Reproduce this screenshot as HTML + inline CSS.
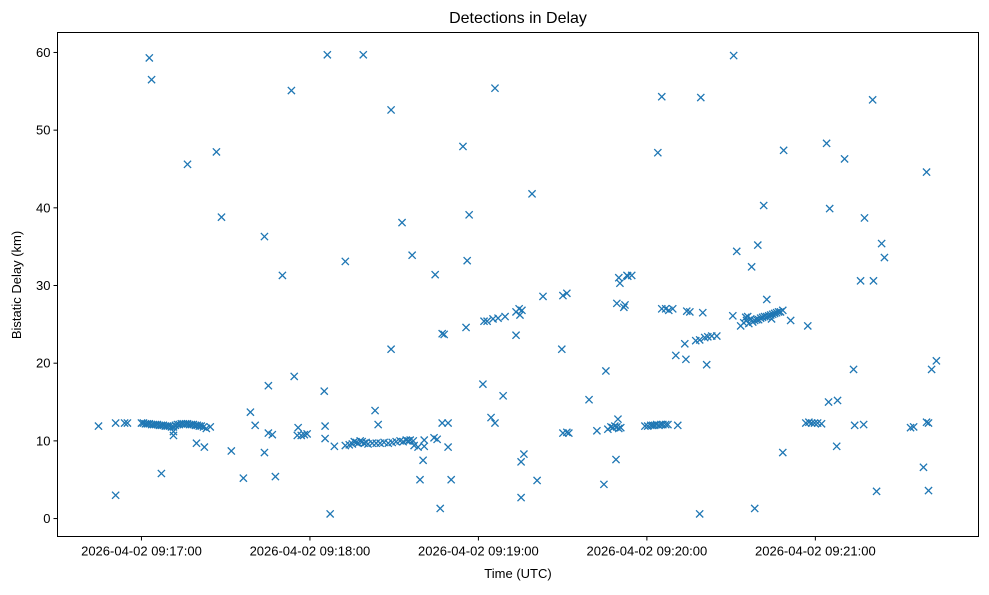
<!DOCTYPE html>
<html><head><meta charset="utf-8"><style>
html,body{margin:0;padding:0;background:#fff;}
svg text{font-family:"Liberation Sans","DejaVu Sans",sans-serif;fill:#000;}
</style></head><body>
<svg id="chart" width="989" height="590" xmlns="http://www.w3.org/2000/svg">
<rect x="0" y="0" width="989" height="590" fill="#fff"/>
<text x="518" y="23" font-size="16" text-anchor="middle">Detections in Delay</text>
<g id="marks"></g>
<g id="axes"></g>
<rect x="57.5" y="32.5" width="921" height="504" fill="none" stroke="#000" stroke-width="1"/>
<text x="518" y="578" font-size="13" text-anchor="middle">Time (UTC)</text>
<text x="0" y="0" font-size="13" text-anchor="middle" transform="translate(21,285) rotate(-90)">Bistatic Delay (km)</text>
</svg>
<script>
// seconds since 2026-04-02 09:16:00 UTC
const times = [44.7,50.8,50.8,54.0,55.0,62.8,63.6,67.1,76.4,86.7,88.5,92.0,96.3,98.8,100.5,103.8,103.8,105.2,105.2,106.6,107.7,110.2,113.4,114.4,115.5,115.8,116.9,118.0,119.0,125.1,125.4,125.4,126.2,127.2,128.7,132.6,132.6,139.0,143.2,144.3,148.9,148.9,152.8,156.4,157.1,159.2,160.3,160.7,160.7,164.6,164.2,165.3,166.4,167.1,167.8,167.1,169.2,169.2,170.3,174.5,175.6,176.0,176.7,181.6,182.0,183.1,184.5,185.2,185.9,185.9,187.0,188.8,189.5,193.4,193.4,194.5,195.5,194.8,195.2,195.2,196.2,199.1,200.9,203.0,209.7,210.1,211.5,212.2,210.1,211.5,219.4,222.2,224.7,225.4,229.0,229.3,229.7,230.0,230.4,231.8,233.2,232.9,234.6,232.2,243.9,245.3,245.3,246.7,247.8,249.2,250.3,251.0,253.5,254.2,255.3,253.9,257.4,258.8,259.2,258.8,259.9,260.6,261.3,261.7,263.1,264.9,270.6,270.9,272.0,277.3,278.4,279.5,281.6,282.7,284.4,288.4,288.4,288.7,291.2,297.3,304.0,304.7,305.1,307.6,307.9,310.4,313.6,314.0,316.1,317.2,317.5,320.4,320.7,321.8,323.6,324.6,333.9,335.0,338.5,339.6,340.3,339.6,340.3,341.4,343.1,
60.0,60.7,61.4,62.1,62.8,63.6,64.3,65.0,65.7,66.4,67.1,67.8,68.5,69.2,70.0,70.7,71.4,72.1,72.8,73.5,74.2,74.9,75.7,76.4,77.1,77.8,78.5,79.2,79.9,80.6,81.3,82.1,83.1,84.5,71.4,71.4,79.6,82.4,
134.0,135.1,135.8,136.5,137.2,137.9,138.6,139.3,140.0,140.7,142.2,143.6,145.0,146.4,147.9,149.3,150.7,152.1,153.2,154.3,155.0,155.7,156.8,158.5,
239.3,240.3,241.4,242.1,242.8,243.5,244.3,245.0,245.7,246.7,247.5,
226.1,227.2,227.9,228.6,229.3,230.0,230.7,
273.4,274.5,275.2,275.5,275.9,276.3,277.0,277.7,278.4,279.1,279.8,280.5,281.2,281.9,282.7,283.4,284.1,284.8,285.5,286.2,286.9,287.6,
296.6,297.7,298.7,299.7,300.8,302.2];
const delays = [11.9,3.0,12.3,12.3,12.3,59.3,56.5,5.8,45.6,47.2,38.8,8.7,5.2,13.7,12.0,36.3,8.5,17.1,11.0,10.8,5.4,31.3,55.1,18.3,10.7,11.7,10.7,10.8,10.9,16.4,11.9,10.3,59.7,0.6,9.3,33.1,9.4,59.7,13.9,12.1,52.6,21.8,38.1,33.9,9.4,5.0,7.5,10.1,9.3,31.4,10.4,10.2,1.3,23.8,23.7,12.3,12.3,9.2,5.0,47.9,24.6,33.2,39.1,17.3,25.4,25.4,13.0,25.7,12.3,55.4,25.8,15.8,26.0,23.6,26.6,27.0,26.8,26.2,7.3,2.7,8.3,41.8,4.9,28.6,21.8,11.0,11.1,11.0,28.7,29.0,15.3,11.3,4.4,19.0,7.6,27.7,12.8,31.0,30.3,27.2,31.2,31.3,31.3,27.5,47.1,54.3,27.0,27.0,26.8,27.0,21.0,12.0,22.5,26.7,26.6,20.5,22.9,23.0,54.2,0.6,26.5,23.3,19.8,23.4,23.5,23.5,26.1,59.6,34.4,32.4,1.3,35.2,40.3,28.2,25.7,26.8,8.5,47.4,25.5,24.8,48.3,15.0,39.9,9.3,15.2,46.3,19.2,12.0,30.6,12.1,38.7,53.9,30.6,3.5,35.4,33.6,11.7,11.8,6.6,12.4,12.3,44.6,3.6,19.2,20.3,
12.3,12.3,12.2,12.2,12.2,12.1,12.1,12.1,12.1,12.0,12.0,12.0,11.9,11.9,11.9,11.8,11.8,12.0,12.1,12.1,12.2,12.2,12.2,12.2,12.1,12.1,12.1,12.0,12.0,11.9,11.9,11.8,11.6,11.8,11.2,10.7,9.7,9.2,
9.5,9.6,9.9,9.8,9.7,10.0,9.9,9.7,9.8,9.6,9.7,9.7,9.7,9.8,9.7,9.8,9.9,10.0,9.9,10.1,10.0,10.1,10.0,9.2,
11.9,11.9,12.0,12.0,12.0,12.1,12.0,12.1,12.1,12.1,12.1,
11.5,11.8,11.7,11.9,11.8,11.6,11.7,
24.8,25.2,25.9,25.5,26.0,25.1,25.7,25.3,25.5,25.6,25.6,25.8,25.9,26.0,26.0,26.1,26.2,26.3,26.4,26.5,26.6,26.6,
12.3,12.4,12.3,12.3,12.3,12.2];
const xTickSeconds = [60,120,180,240,300];
const xTickLabels = ["2026-04-02 09:17:00","2026-04-02 09:18:00","2026-04-02 09:19:00","2026-04-02 09:20:00","2026-04-02 09:21:00"];
const yTicks = [0,10,20,30,40,50,60];

const NS = "http://www.w3.org/2000/svg";
const X0=57.5, X1=978.5, Y0=536.5, Y1=32.5;
const tMin=30.1, tMax=358.1, dMin=-2.31, dMax=62.57;
function xScale(t){return X0+(t-tMin)/(tMax-tMin)*(X1-X0);}
function yScale(d){return Y0-(d-dMin)/(dMax-dMin)*(Y0-Y1);}

const marks=document.getElementById('marks');
for(let i=0;i<times.length;i++){
  const cx=xScale(times[i]), cy=yScale(delays[i]), r=3.6;
  const p=document.createElementNS(NS,'path');
  p.setAttribute('d',`M${cx-r},${cy-r}L${cx+r},${cy+r}M${cx-r},${cy+r}L${cx+r},${cy-r}`);
  p.setAttribute('stroke','#1f77b4');
  p.setAttribute('stroke-width','1.3');
  p.setAttribute('fill','none');
  
  
  marks.appendChild(p);
}
const axes=document.getElementById('axes');
xTickSeconds.forEach((t,i)=>{
  const x=xScale(t);
  const l=document.createElementNS(NS,'line');
  l.setAttribute('x1',x);l.setAttribute('x2',x);l.setAttribute('y1',Y0);l.setAttribute('y2',Y0+4);
  l.setAttribute('stroke','#000');
  
  
  axes.appendChild(l);
  const tx=document.createElementNS(NS,'text');
  tx.setAttribute('x',x);tx.setAttribute('y',Y0+19);tx.setAttribute('font-size','13');tx.setAttribute('text-anchor','middle');
  tx.textContent=xTickLabels[i];
  
  
  axes.appendChild(tx);
});
yTicks.forEach(v=>{
  const y=yScale(v);
  const l=document.createElementNS(NS,'line');
  l.setAttribute('x1',X0-4);l.setAttribute('x2',X0);l.setAttribute('y1',y);l.setAttribute('y2',y);
  l.setAttribute('stroke','#000');
  
  
  axes.appendChild(l);
  const tx=document.createElementNS(NS,'text');
  tx.setAttribute('x',X0-7);tx.setAttribute('y',y+4.5);tx.setAttribute('font-size','13');tx.setAttribute('text-anchor','end');
  tx.textContent=String(v);
  
  
  axes.appendChild(tx);
});
</script>
</body></html>
